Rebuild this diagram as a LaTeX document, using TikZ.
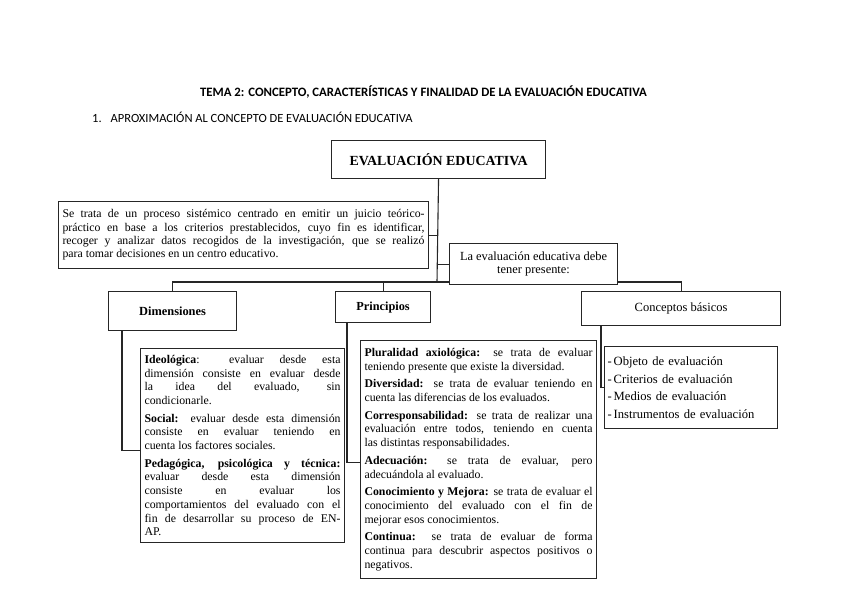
\documentclass[tikz,border=0pt]{standalone}
\usepackage{fontspec}
\setmainfont{Liberation Serif}
\newfontfamily\titlefont{Carlito}
\usetikzlibrary{backgrounds}
\tikzset{
  box/.style={draw=black!85, line width=1.1pt, fill=white, rectangle, inner sep=0pt},
  conn/.style={draw=black!85, line width=1.1pt},
  para/.style={box, align=justify, inner sep=4pt, font=\fontsize{11.8}{13.7}\selectfont},
}
\newcommand{\pgap}{\par\vspace{4pt}}
\begin{document}
\begin{tikzpicture}[x=1pt,y=-1pt]
\useasboundingbox (0,0) rectangle (848,599);
\node (title) at (423.5,92) {\titlefont\bfseries\fontsize{12.8}{14}\selectfont TEMA 2: CONCEPTO, CARACTERÍSTICAS Y FINALIDAD DE LA EVALUACIÓN EDUCATIVA};
\node[anchor=west, inner sep=0pt] (sub) at (92,117) {\titlefont\fontsize{12.5}{14}\selectfont 1.\hspace{9pt}APROXIMACIÓN AL CONCEPTO DE EVALUACIÓN EDUCATIVA};

\node[box, anchor=north west, minimum width=214pt, minimum height=38pt, font=\bfseries\fontsize{13.9}{16}\selectfont] (main) at (331,140) {EVALUACIÓN EDUCATIVA};

\node[para, anchor=north west, minimum width=370pt, minimum height=67pt, text width=362pt, font=\fontsize{11.8}{13.4}\selectfont] (def) at (58,201) {Se trata de un proceso sistémico centrado en emitir un juicio teórico-\linebreak práctico en base a los criterios prestablecidos, cuyo fin es identificar,\linebreak recoger y analizar datos recogidos de la investigación, que se realizó\linebreak para tomar decisiones en un centro educativo.};

\node[box, anchor=north west, minimum width=168pt, minimum height=41pt, align=center, font=\fontsize{12.4}{13.5}\selectfont] (debe) at (449,243) {La evaluación educativa debe\\tener presente:};

\node[box, anchor=north west, minimum width=128pt, minimum height=39pt, font=\bfseries\fontsize{12.4}{14}\selectfont] (dim) at (108,291) {Dimensiones};
\node[box, anchor=north west, minimum width=95pt, minimum height=31pt, font=\bfseries\fontsize{12.3}{14}\selectfont] (prin) at (335,291) {Principios};
\node[box, anchor=north west, minimum width=199pt, minimum height=34pt, font=\fontsize{12.5}{14}\selectfont] (conc) at (581,291) {Conceptos básicos};

\node[para, anchor=north west, minimum width=204pt, minimum height=194pt, text width=196pt] (dimc) at (140,348) {\textbf{Ideológica}: evaluar desde esta\linebreak dimensión consiste en evaluar desde\linebreak la idea del evaluado, sin\linebreak condicionarle.\pgap
\textbf{Social:} evaluar desde esta dimensión\linebreak consiste en evaluar teniendo en\linebreak cuenta los factores sociales.\pgap
\textbf{Pedagógica, psicológica y técnica:}\linebreak evaluar desde esta dimensión\linebreak consiste en evaluar los\linebreak comportamientos del evaluado con el\linebreak fin de desarrollar su proceso de EN-\linebreak AP.};

\node[para, anchor=north west, minimum width=236pt, minimum height=238pt, text width=228pt] (princ) at (360,340) {\textbf{Pluralidad axiológica:} se trata de evaluar\linebreak teniendo presente que existe la diversidad.\pgap
\textbf{Diversidad:} se trata de evaluar teniendo en\linebreak cuenta las diferencias de los evaluados.\pgap
\textbf{Corresponsabilidad:} se trata de realizar una\linebreak evaluación entre todos, teniendo en cuenta\linebreak las distintas responsabilidades.\pgap
\textbf{Adecuación:} se trata de evaluar, pero\linebreak adecuándola al evaluado.\pgap
\textbf{Conocimiento y Mejora:} se trata de evaluar el\linebreak conocimiento del evaluado con el fin de\linebreak mejorar esos conocimientos.\pgap
\textbf{Continua:} se trata de evaluar de forma\linebreak continua para descubrir aspectos positivos o\linebreak negativos.};

\node[box, anchor=north west, minimum width=173pt, minimum height=82pt, text width=167pt, align=left, inner sep=3pt, font=\fontsize{12.6}{17.5}\selectfont] (concc) at (604,346) {-\hspace{2pt}Objeto de evaluación\\-\hspace{2pt}Criterios de evaluación\\-\hspace{2pt}Medios de evaluación\\-\hspace{2pt}Instrumentos de evaluación};

\coordinate (hb) at (437,282);
\begin{scope}[on background layer]
\draw[conn] (main.south) -- (hb);
\draw[conn] (def.east) -- (def.east -| hb);
\draw[conn] (debe.west) -- (debe.west -| hb);
\draw[conn] (dim.north) |- (hb);
\draw[conn] (prin.north) |- (hb);
\draw[conn] (conc.north) |- (hb);
\draw[conn] ([xshift=14pt]dim.south west) |- ([yshift=-5pt]dimc.west);
\draw[conn] ([xshift=12pt]prin.south west) |- ([yshift=-3pt]princ.west);
\draw[conn] ([xshift=20pt]conc.south west) |- (concc.west);
\end{scope}
\end{tikzpicture}
\end{document}
